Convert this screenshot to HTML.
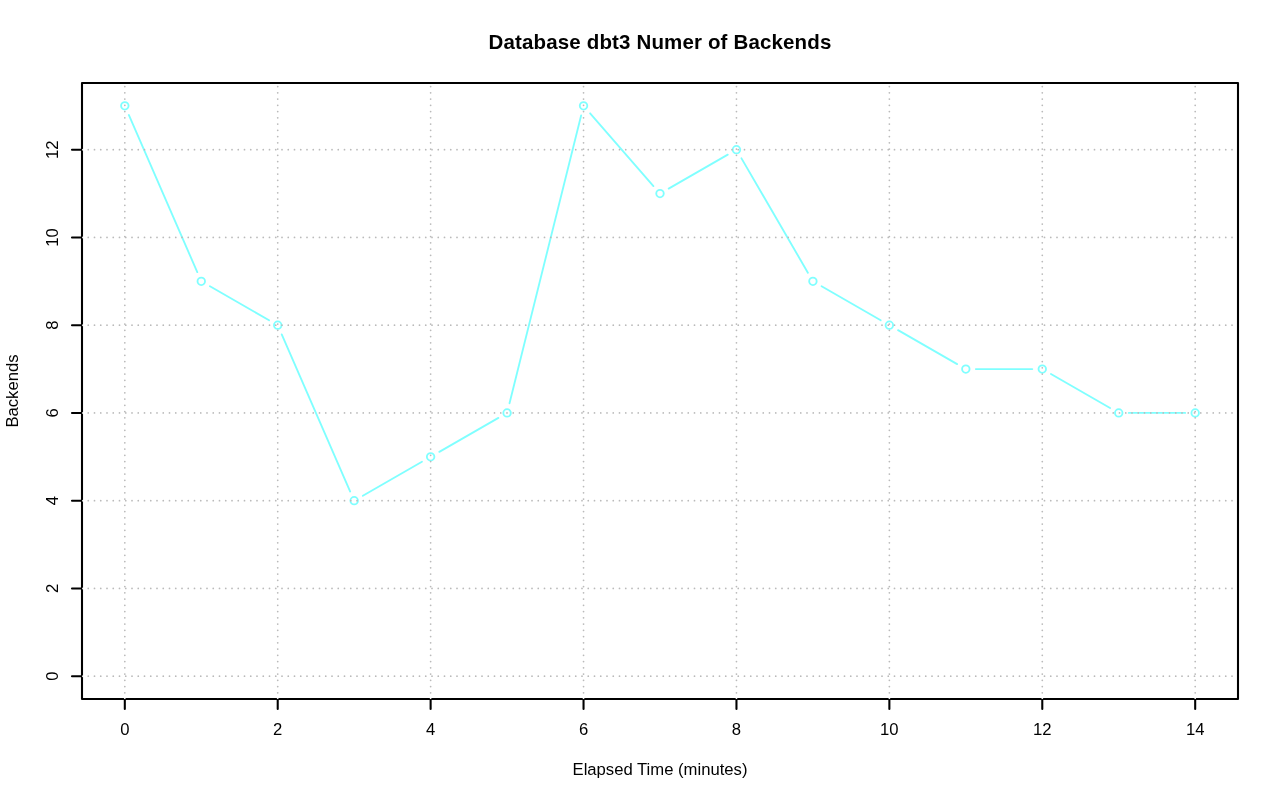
<!DOCTYPE html>
<html><head><meta charset="utf-8"><title>Database dbt3 Numer of Backends</title>
<style>
html,body{margin:0;padding:0;background:#fff;}
svg{display:block;}
text{font-family:"Liberation Sans",Arial,Helvetica,sans-serif;fill:#000;}
</style></head><body>
<svg width="1280" height="801" viewBox="0 0 1280 801">
<rect width="1280" height="801" fill="#fff"/>

<g stroke="#00ffff" stroke-opacity="0.5" stroke-width="1.85" stroke-linecap="round" fill="none">
<line x1="128.81" y1="114.98" x2="197.28" y2="272.15"/>
<line x1="209.94" y1="286.29" x2="269.05" y2="320.21"/>
<line x1="281.72" y1="334.36" x2="350.19" y2="491.52"/>
<line x1="362.85" y1="495.71" x2="421.96" y2="461.79"/>
<line x1="439.31" y1="451.83" x2="498.42" y2="417.91"/>
<line x1="509.51" y1="403.23" x2="581.13" y2="115.52"/>
<line x1="590.11" y1="113.35" x2="653.43" y2="186.02"/>
<line x1="668.67" y1="188.59" x2="727.78" y2="154.67"/>
<line x1="741.48" y1="158.34" x2="807.89" y2="272.67"/>
<line x1="821.58" y1="286.29" x2="880.69" y2="320.21"/>
<line x1="898.04" y1="330.17" x2="957.15" y2="364.09"/>
<line x1="975.82" y1="369.06" x2="1032.28" y2="369.06"/>
<line x1="1050.95" y1="374.04" x2="1110.06" y2="407.96"/>
<line x1="1128.73" y1="412.94" x2="1185.19" y2="412.94"/>
<circle cx="124.81" cy="105.81" r="3.75"/>
<circle cx="201.27" cy="281.31" r="3.75"/>
<circle cx="277.72" cy="325.19" r="3.75"/>
<circle cx="354.18" cy="500.69" r="3.75"/>
<circle cx="430.63" cy="456.81" r="3.75"/>
<circle cx="507.09" cy="412.94" r="3.75"/>
<circle cx="583.54" cy="105.81" r="3.75"/>
<circle cx="660.00" cy="193.56" r="3.75"/>
<circle cx="736.46" cy="149.69" r="3.75"/>
<circle cx="812.91" cy="281.31" r="3.75"/>
<circle cx="889.37" cy="325.19" r="3.75"/>
<circle cx="965.82" cy="369.06" r="3.75"/>
<circle cx="1042.28" cy="369.06" r="3.75"/>
<circle cx="1118.73" cy="412.94" r="3.75"/>
<circle cx="1195.19" cy="412.94" r="3.75"/>
</g>
<g stroke="#bababa" stroke-width="1.75" stroke-linecap="round" stroke-dasharray="0 6.25" fill="none">
<line x1="124.81" y1="699.0" x2="124.81" y2="83.0"/>
<line x1="277.72" y1="699.0" x2="277.72" y2="83.0"/>
<line x1="430.63" y1="699.0" x2="430.63" y2="83.0"/>
<line x1="583.54" y1="699.0" x2="583.54" y2="83.0"/>
<line x1="736.46" y1="699.0" x2="736.46" y2="83.0"/>
<line x1="889.37" y1="699.0" x2="889.37" y2="83.0"/>
<line x1="1042.28" y1="699.0" x2="1042.28" y2="83.0"/>
<line x1="1195.19" y1="699.0" x2="1195.19" y2="83.0"/>
<line x1="82.0" y1="676.19" x2="1238.0" y2="676.19"/>
<line x1="82.0" y1="588.44" x2="1238.0" y2="588.44"/>
<line x1="82.0" y1="500.69" x2="1238.0" y2="500.69"/>
<line x1="82.0" y1="412.94" x2="1238.0" y2="412.94"/>
<line x1="82.0" y1="325.19" x2="1238.0" y2="325.19"/>
<line x1="82.0" y1="237.44" x2="1238.0" y2="237.44"/>
<line x1="82.0" y1="149.69" x2="1238.0" y2="149.69"/>
</g>
<g stroke="#000" stroke-width="2.08" stroke-linecap="round" stroke-linejoin="round" fill="none">
<rect x="82.0" y="83.0" width="1156.0" height="616.0"/>
<line x1="124.81" y1="699.0" x2="124.81" y2="709.0"/>
<line x1="277.72" y1="699.0" x2="277.72" y2="709.0"/>
<line x1="430.63" y1="699.0" x2="430.63" y2="709.0"/>
<line x1="583.54" y1="699.0" x2="583.54" y2="709.0"/>
<line x1="736.46" y1="699.0" x2="736.46" y2="709.0"/>
<line x1="889.37" y1="699.0" x2="889.37" y2="709.0"/>
<line x1="1042.28" y1="699.0" x2="1042.28" y2="709.0"/>
<line x1="1195.19" y1="699.0" x2="1195.19" y2="709.0"/>
<line x1="82.0" y1="676.19" x2="72.0" y2="676.19"/>
<line x1="82.0" y1="588.44" x2="72.0" y2="588.44"/>
<line x1="82.0" y1="500.69" x2="72.0" y2="500.69"/>
<line x1="82.0" y1="412.94" x2="72.0" y2="412.94"/>
<line x1="82.0" y1="325.19" x2="72.0" y2="325.19"/>
<line x1="82.0" y1="237.44" x2="72.0" y2="237.44"/>
<line x1="82.0" y1="149.69" x2="72.0" y2="149.69"/>
</g>
<g fill="#fff" stroke="none">
<circle cx="83.05" cy="676.19" r="0.95"/>
<circle cx="83.05" cy="588.44" r="0.95"/>
<circle cx="83.05" cy="500.69" r="0.95"/>
<circle cx="83.05" cy="412.94" r="0.95"/>
<circle cx="83.05" cy="325.19" r="0.95"/>
<circle cx="83.05" cy="237.44" r="0.95"/>
<circle cx="83.05" cy="149.69" r="0.95"/>
<circle cx="124.81" cy="697.95" r="0.95"/>
<circle cx="277.72" cy="697.95" r="0.95"/>
<circle cx="430.63" cy="697.95" r="0.95"/>
<circle cx="583.54" cy="697.95" r="0.95"/>
<circle cx="736.46" cy="697.95" r="0.95"/>
<circle cx="889.37" cy="697.95" r="0.95"/>
<circle cx="1042.28" cy="697.95" r="0.95"/>
<circle cx="1195.19" cy="697.95" r="0.95"/>
</g>
<g opacity="0.999">
<text x="660.00" y="48.8" font-size="20.5" font-weight="bold" text-anchor="middle" letter-spacing="0.15">Database dbt3 Numer of Backends</text>
<text x="660.00" y="775" font-size="16.67" text-anchor="middle">Elapsed Time (minutes)</text>
<text transform="translate(18.0 391.00) rotate(-90)" font-size="16.67" text-anchor="middle">Backends</text>
<text x="124.81" y="735" font-size="16.67" text-anchor="middle">0</text>
<text x="277.72" y="735" font-size="16.67" text-anchor="middle">2</text>
<text x="430.63" y="735" font-size="16.67" text-anchor="middle">4</text>
<text x="583.54" y="735" font-size="16.67" text-anchor="middle">6</text>
<text x="736.46" y="735" font-size="16.67" text-anchor="middle">8</text>
<text x="889.37" y="735" font-size="16.67" text-anchor="middle">10</text>
<text x="1042.28" y="735" font-size="16.67" text-anchor="middle">12</text>
<text x="1195.19" y="735" font-size="16.67" text-anchor="middle">14</text>
<text transform="translate(57.7 676.19) rotate(-90)" font-size="16.67" text-anchor="middle">0</text>
<text transform="translate(57.7 588.44) rotate(-90)" font-size="16.67" text-anchor="middle">2</text>
<text transform="translate(57.7 500.69) rotate(-90)" font-size="16.67" text-anchor="middle">4</text>
<text transform="translate(57.7 412.94) rotate(-90)" font-size="16.67" text-anchor="middle">6</text>
<text transform="translate(57.7 325.19) rotate(-90)" font-size="16.67" text-anchor="middle">8</text>
<text transform="translate(57.7 237.44) rotate(-90)" font-size="16.67" text-anchor="middle">10</text>
<text transform="translate(57.7 149.69) rotate(-90)" font-size="16.67" text-anchor="middle">12</text>
</g>
</svg></body></html>
